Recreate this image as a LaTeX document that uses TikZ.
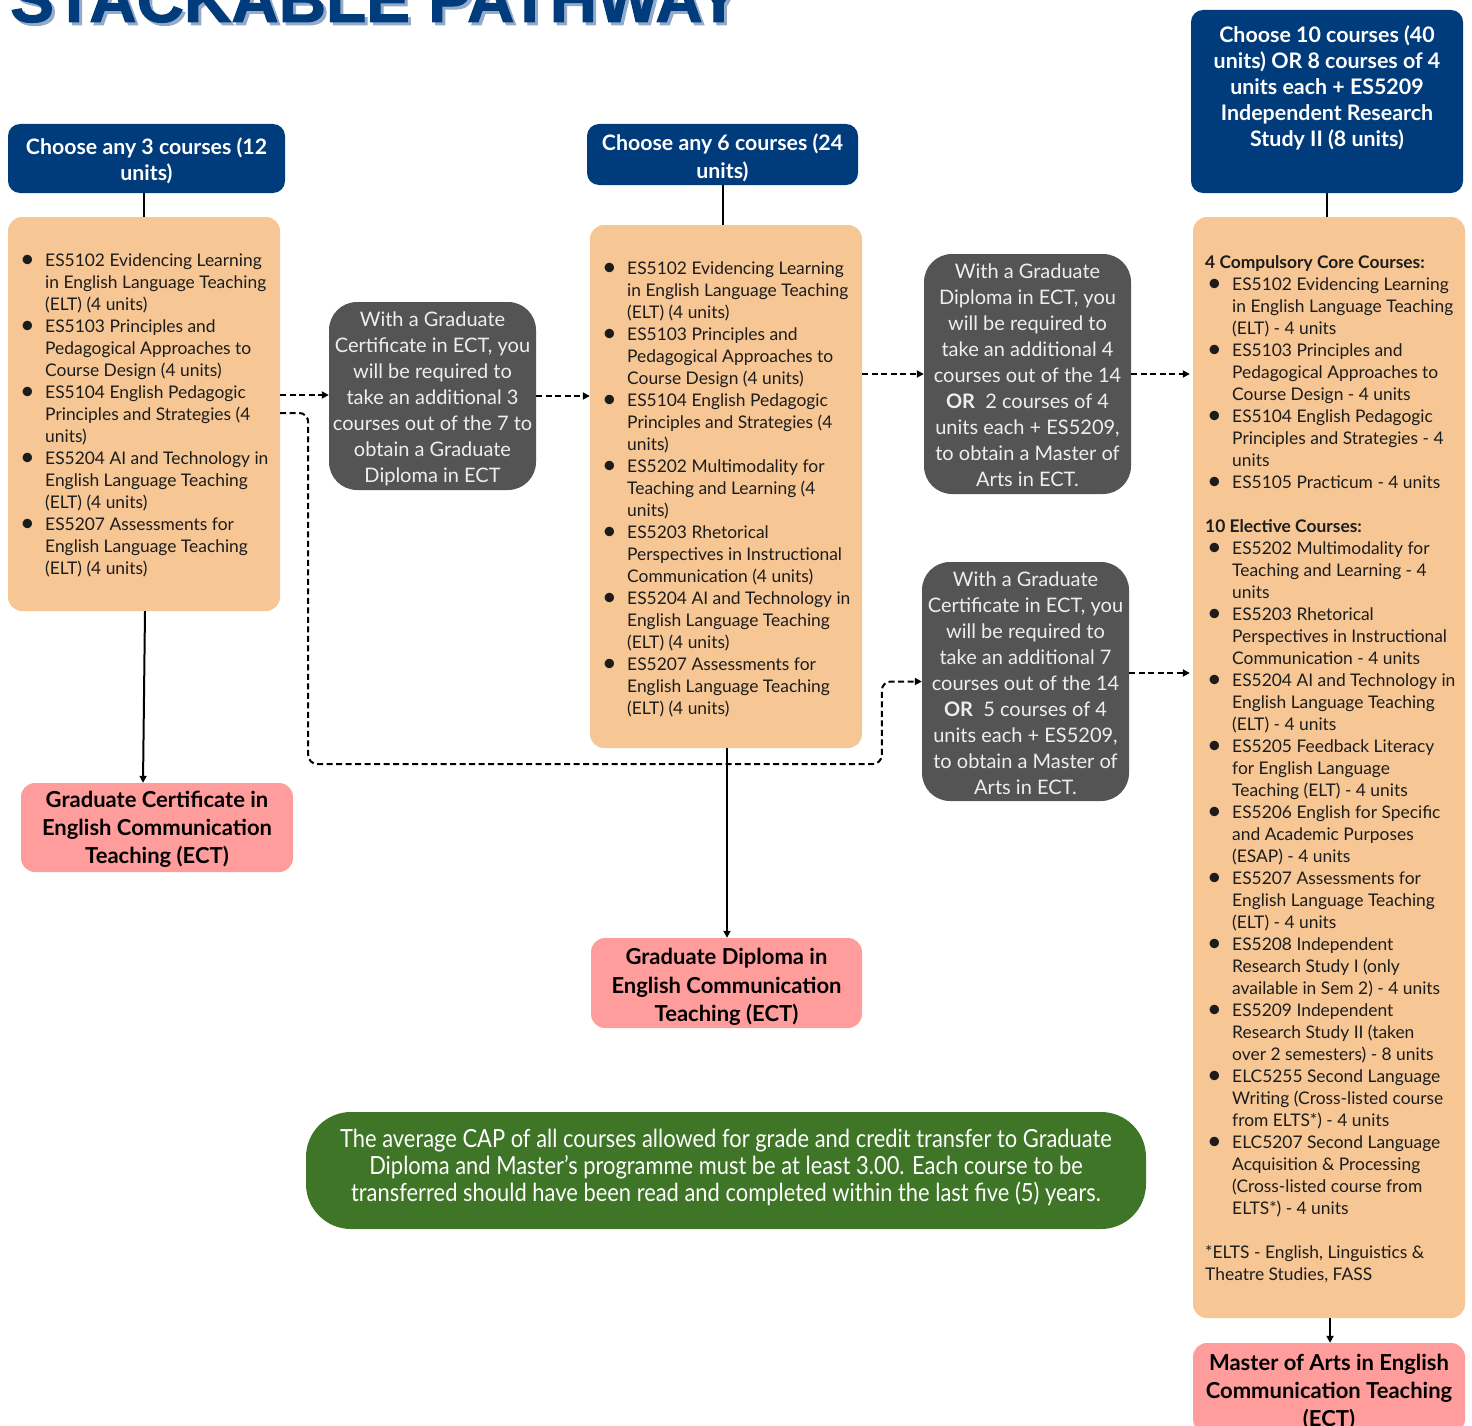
\documentclass[tikz,border=0pt]{standalone}
\usepackage{fontspec}
\usepackage{graphicx}
\setmainfont{Lato}
\newfontfamily\condfont{Lato}[FakeStretch=0.876]
\newfontfamily\titlefont{Liberation Sans Bold}[FakeBold=1.5]
\usetikzlibrary{arrows.meta,calc}
\definecolor{navy}{RGB}{0,59,123}
\definecolor{orangebox}{RGB}{246,199,148}
\definecolor{greybox}{RGB}{84,84,84}
\definecolor{pinkbox}{RGB}{255,157,156}
\definecolor{greenbox}{RGB}{62,117,39}
\definecolor{titleshadow}{RGB}{148,170,203}
\definecolor{bodytext}{RGB}{28,28,28}
\definecolor{greytext}{RGB}{238,238,238}
\newcommand\mybul{\raisebox{-0.15ex}{\scalebox{1.45}{\textbullet}}}
\newcommand\itm[2][0pt]{\par\noindent\hangindent=\dimexpr#1+25pt\relax\hangafter=1\makebox[\dimexpr#1+25pt\relax][l]{\hspace{#1}\mybul}#2}
\newcommand\bodyblock[1]{\begin{minipage}[t]{320pt}\fontsize{17.4}{22}\selectfont\raggedright\let\\\newline\parskip=0pt #1\end{minipage}}
\newcommand\centblock[4]{\begin{minipage}[t]{#1}\centering\fontsize{#2}{#3}\selectfont #4\end{minipage}}
\begin{document}
\begin{tikzpicture}[x=1pt,y=-1pt,
  hdr/.style={fill=navy, rounded corners=12pt, inner sep=0},
  orng/.style={fill=orangebox, rounded corners=14pt, inner sep=0},
  gry/.style={fill=greybox, rounded corners=28pt, inner sep=0},
  pnk/.style={fill=pinkbox, rounded corners=14pt, inner sep=0},
  grn/.style={fill=greenbox, rounded corners=45pt, inner sep=0},
  txt/.style={inner sep=0, anchor=base},
  ltxt/.style={inner sep=0, anchor=base west, text=bodytext},
  solidarrow/.style={line width=2pt, -{Triangle[length=7pt,width=7pt]}},
  solidline/.style={line width=2pt},
  dasharrow/.style={line width=2pt, dash pattern=on 6pt off 3.5pt, -{Triangle[length=7pt,width=7pt]}}
]
\clip (0,0) rectangle (1472,1426);
\fill[white] (0,0) rectangle (1472,1426);

% title
\node[inner sep=0, anchor=base west, text=titleshadow] (titleS) at (13,25) {\titlefont\resizebox{730pt}{!}{STACKABLE PATHWAY}};
\node[inner sep=0, anchor=base west, text=navy] (title) at (10,22) {\titlefont\resizebox{730pt}{!}{STACKABLE PATHWAY}};

% boxes
\node[hdr, minimum width=277, minimum height=69] (hA) at (146.5,158.5) {};
\node[hdr, minimum width=271, minimum height=61] (hB) at (722.5,154.5) {};
\node[hdr, minimum width=272, minimum height=183] (hC) at (1327,101.5) {};
\node[orng, minimum width=272, minimum height=394] (oA) at (144,414) {};
\node[orng, minimum width=272, minimum height=523] (oB) at (726,486.5) {};
\node[orng, minimum width=272, minimum height=1101] (oC) at (1329,767.5) {};
\node[gry, minimum width=207, minimum height=188] (gA) at (432.5,396) {};
\node[gry, minimum width=207, minimum height=240] (gB) at (1027.5,374) {};
\node[gry, minimum width=207, minimum height=239] (gC) at (1025.5,681.5) {};
\node[pnk, minimum width=272, minimum height=89] (pA) at (157,827.5) {};
\node[pnk, minimum width=271, minimum height=90] (pB) at (726.5,983) {};
\node[pnk, minimum width=272, minimum height=90] (pC) at (1329,1388) {};
\node[grn, minimum width=840, minimum height=117] (gr) at (726,1170.5) {};

% header texts
\node[txt, text=white] (thA) at (146.5,154) {\centblock{275pt}{21.3}{26}{\bfseries Choose any 3 courses (12\\units)}};
\node[txt, text=white] (thB) at (722.5,150) {\centblock{275pt}{21.3}{28}{\bfseries Choose any 6 courses (24\\units)}};
\node[txt, text=white] (thC) at (1327,43) {\centblock{275pt}{21.4}{26}{\bfseries Choose 10 courses (40\\units) OR 8 courses of 4\\units each + ES5209\\Independent Research\\Study II (8 units)}};

% grey texts
\node[txt, text=greytext] (tgA) at (432.5,326.5) {\centblock{220pt}{20}{26}{With a Graduate\\Certificate in ECT, you\\will be required to\\take an additional 3\\courses out of the 7 to\\obtain a Graduate\\Diploma in ECT}};
\node[txt, text=greytext] (tgB) at (1027.5,278.5) {\centblock{220pt}{20}{26}{With a Graduate\\Diploma in ECT, you\\will be required to\\take an additional 4\\courses out of the 14\\\textbf{OR}\ \ 2 courses of 4\\units each + ES5209,\\to obtain a Master of\\Arts in ECT.}};
\node[txt, text=greytext] (tgC) at (1025.5,586.5) {\centblock{220pt}{20}{26}{With a Graduate\\Certificate in ECT, you\\will be required to\\take an additional 7\\courses out of the 14\\\textbf{OR}\ \ 5 courses of 4\\units each + ES5209,\\to obtain a Master of\\Arts in ECT.}};

% pink texts
\node[txt, text=black] (tpA) at (157,807.5) {\centblock{275pt}{22}{28}{\bfseries Graduate Certificate in\\English Communication\\Teaching (ECT)}};
\node[txt, text=black] (tpB) at (726.5,964.5) {\centblock{275pt}{22}{28.5}{\bfseries Graduate Diploma in\\English Communication\\Teaching (ECT)}};
\node[txt, text=black] (tpC) at (1329,1370.5) {\centblock{275pt}{22}{28}{\bfseries Master of Arts in English\\Communication Teaching\\(ECT)}};

% green text
\node[txt, text=white] (tgr) at (726,1147.5) {\centblock{830pt}{25}{27}{\condfont The average CAP of all courses allowed for grade and credit transfer to Graduate\\Diploma and Master’s programme must be at least 3.00. Each course to be\\transferred should have been read and completed within the last five (5) years.}};

% orange texts
\node[ltxt] (toA) at (20,266.5) {\bodyblock{%
\itm{ES5102 Evidencing Learning\\in English Language Teaching\\(ELT) (4 units)}
\itm{ES5103 Principles and\\Pedagogical Approaches to\\Course Design (4 units)}
\itm{ES5104 English Pedagogic\\Principles and Strategies (4\\units)}
\itm{ES5204 AI and Technology in\\English Language Teaching\\(ELT) (4 units)}
\itm{ES5207 Assessments for\\English Language Teaching\\(ELT) (4 units)}}};

\node[ltxt] (toB) at (602,274.5) {\bodyblock{%
\itm{ES5102 Evidencing Learning\\in English Language Teaching\\(ELT) (4 units)}
\itm{ES5103 Principles and\\Pedagogical Approaches to\\Course Design (4 units)}
\itm{ES5104 English Pedagogic\\Principles and Strategies (4\\units)}
\itm{ES5202 Multimodality for\\Teaching and Learning (4\\units)}
\itm{ES5203 Rhetorical\\Perspectives in Instructional\\Communication (4 units)}
\itm{ES5204 AI and Technology in\\English Language Teaching\\(ELT) (4 units)}
\itm{ES5207 Assessments for\\English Language Teaching\\(ELT) (4 units)}}};

\node[ltxt] (toC) at (1205,268.5) {\bodyblock{%
\noindent\textbf{4 Compulsory Core Courses:}
\itm[2pt]{ES5102 Evidencing Learning\\in English Language Teaching\\(ELT) - 4 units}
\itm[2pt]{ES5103 Principles and\\Pedagogical Approaches to\\Course Design - 4 units}
\itm[2pt]{ES5104 English Pedagogic\\Principles and Strategies - 4\\units}
\itm[2pt]{ES5105 Practicum - 4 units}
\par\vspace{22pt}\noindent\textbf{10 Elective Courses:}
\itm[2pt]{ES5202 Multimodality for\\Teaching and Learning - 4\\units}
\itm[2pt]{ES5203 Rhetorical\\Perspectives in Instructional\\Communication - 4 units}
\itm[2pt]{ES5204 AI and Technology in\\English Language Teaching\\(ELT) - 4 units}
\itm[2pt]{ES5205 Feedback Literacy\\for English Language\\Teaching (ELT) - 4 units}
\itm[2pt]{ES5206 English for Specific\\and Academic Purposes\\(ESAP) - 4 units}
\itm[2pt]{ES5207 Assessments for\\English Language Teaching\\(ELT) - 4 units}
\itm[2pt]{ES5208 Independent\\Research Study I (only\\available in Sem 2) - 4 units}
\itm[2pt]{ES5209 Independent\\Research Study II (taken\\over 2 semesters) - 8 units}
\itm[2pt]{ELC5255 Second Language\\Writing (Cross-listed course\\from ELTS*) - 4 units}
\itm[2pt]{ELC5207 Second Language\\Acquisition \& Processing\\(Cross-listed course from\\ELTS*) - 4 units}
\par\vspace{22pt}\noindent *ELTS - English, Linguistics \&\\Theatre Studies, FASS}};

% connectors
\draw[solidline] ([xshift=-3pt]hA.south) -- ([xshift=-3pt]hA.south |- oA.north);
\draw[solidline] (hB.south) -- (hB.south |- oB.north);
\draw[solidline] (hC.south) -- (hC.south |- oC.north);
\draw[solidarrow] ([xshift=1pt]oA.south) -- ([xshift=-1pt]oA.south |- pA.north);
\draw[solidarrow] ([xshift=1pt]oB.south) -- ([xshift=1pt]oB.south |- pB.north);
\draw[solidarrow] ([xshift=1pt]oC.south) -- ([xshift=1pt]oC.south |- pC.north);

\draw[dasharrow] ([yshift=1pt]gA.west -| oA.east) -- ([yshift=1pt]gA.west);
\draw[dasharrow] (gA.east) -- (gA.east -| oB.west);
\draw[dasharrow] (gB.west -| oB.east) -- (gB.west);
\draw[dasharrow] (gB.east) -- ([xshift=-3pt]gB.east -| oC.west);
\draw[dasharrow] ([yshift=8.5pt]gC.east) -- ([xshift=-3pt,yshift=8.5pt]gC.east -| oC.west);
\draw[dasharrow, rounded corners=9pt] ([yshift=1pt]oA.east) -- ++(28,0) -- ++(0,351) -| ([xshift=-40pt]gC.west) -- (gC.west);
\end{tikzpicture}
\end{document}
